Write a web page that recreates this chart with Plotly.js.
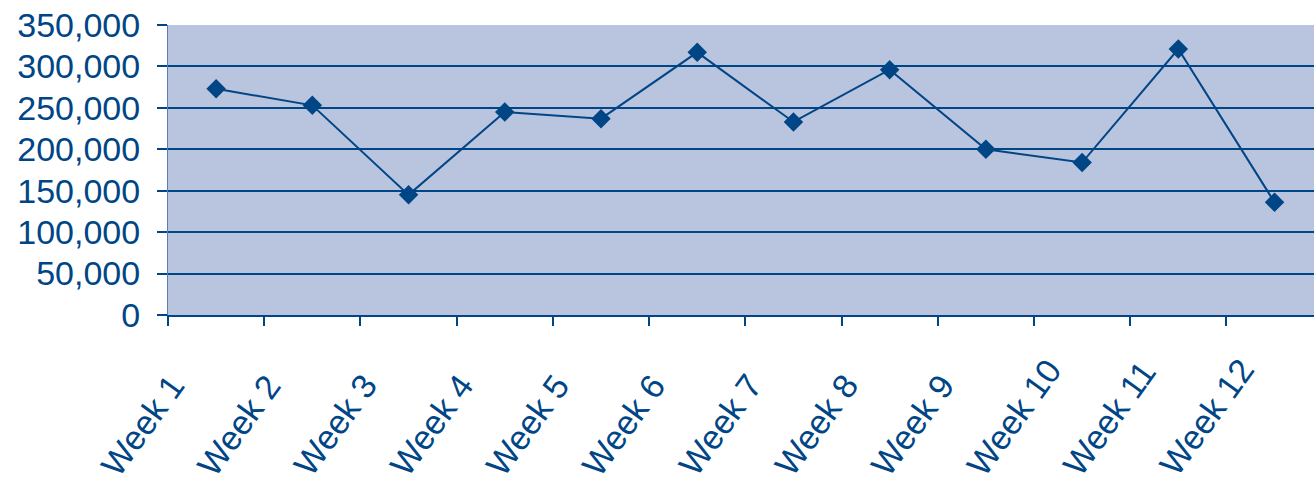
<!DOCTYPE html>
<html>
<head>
<meta charset="utf-8">
<script src="https://cdn.plot.ly/plotly-3.0.1.min.js"></script>
<style>
  html, body { margin: 0; padding: 0; background: #ffffff; }
  #chart { width: 1314px; height: 484px; }
</style>
</head>
<body>
<div id="chart"></div>
<script>
// Weekly totals
const weeks = ["Week 1", "Week 2", "Week 3", "Week 4", "Week 5", "Week 6",
               "Week 7", "Week 8", "Week 9", "Week 10", "Week 11", "Week 12"];
const totals = [273000, 253000, 145000, 245000, 237000, 317000,
                233000, 296000, 200000, 184000, 321000, 136000];
const yTickValues = [0, 50000, 100000, 150000, 200000, 250000, 300000, 350000];

const ink = "#004586";
const fontFamily = "'Liberation Sans', Arial, sans-serif";

const trace = {
  type: "scatter",
  mode: "lines+markers",
  x: weeks,
  y: totals,
  line: { color: ink, width: 2 },
  marker: { symbol: "diamond", size: 15, color: ink },
  hoverinfo: "x+y"
};

// Category labels are slanted and anchored at their first letter,
// so each one is drawn as a rotated annotation under its category.
const weekLabels = weeks.map(w => ({
  text: w,
  x: w,
  xref: "x",
  y: 0,
  yref: "paper",
  xanchor: "left",
  yanchor: "bottom",
  xshift: -124,
  yshift: -169,
  textangle: -54,
  borderpad: 0,
  showarrow: false,
  font: { size: 34, color: ink, family: fontFamily }
}));

const layout = {
  width: 1314,
  height: 484,
  margin: { l: 168, r: 0, t: 25, b: 169, pad: 0 },
  paper_bgcolor: "#ffffff",
  plot_bgcolor: "#b9c5de",
  showlegend: false,
  font: { family: fontFamily, color: ink },
  annotations: weekLabels,
  xaxis: {
    type: "category",
    range: [-0.5, 11.41],
    tickson: "boundaries",
    ticks: "outside",
    ticklen: 9,
    tickwidth: 2,
    tickcolor: ink,
    showticklabels: false,
    automargin: false,
    showgrid: false,
    showline: true,
    linecolor: ink,
    linewidth: 2,
    zeroline: false,
    fixedrange: true
  },
  yaxis: {
    range: [0, 350000],
    tickvals: yTickValues,
    tickformat: ",d",
    ticks: "outside",
    ticklen: 10,
    tickwidth: 2,
    tickcolor: ink,
    ticklabelstandoff: 10,
    tickfont: { size: 34, color: ink, family: fontFamily },
    automargin: false,
    showgrid: true,
    gridcolor: ink,
    gridwidth: 2,
    showline: true,
    linecolor: "#5a7db3",
    linewidth: 1,
    zeroline: false,
    fixedrange: true
  }
};

Plotly.newPlot("chart", [trace], layout, { displayModeBar: false, staticPlot: true });
</script>
</body>
</html>
